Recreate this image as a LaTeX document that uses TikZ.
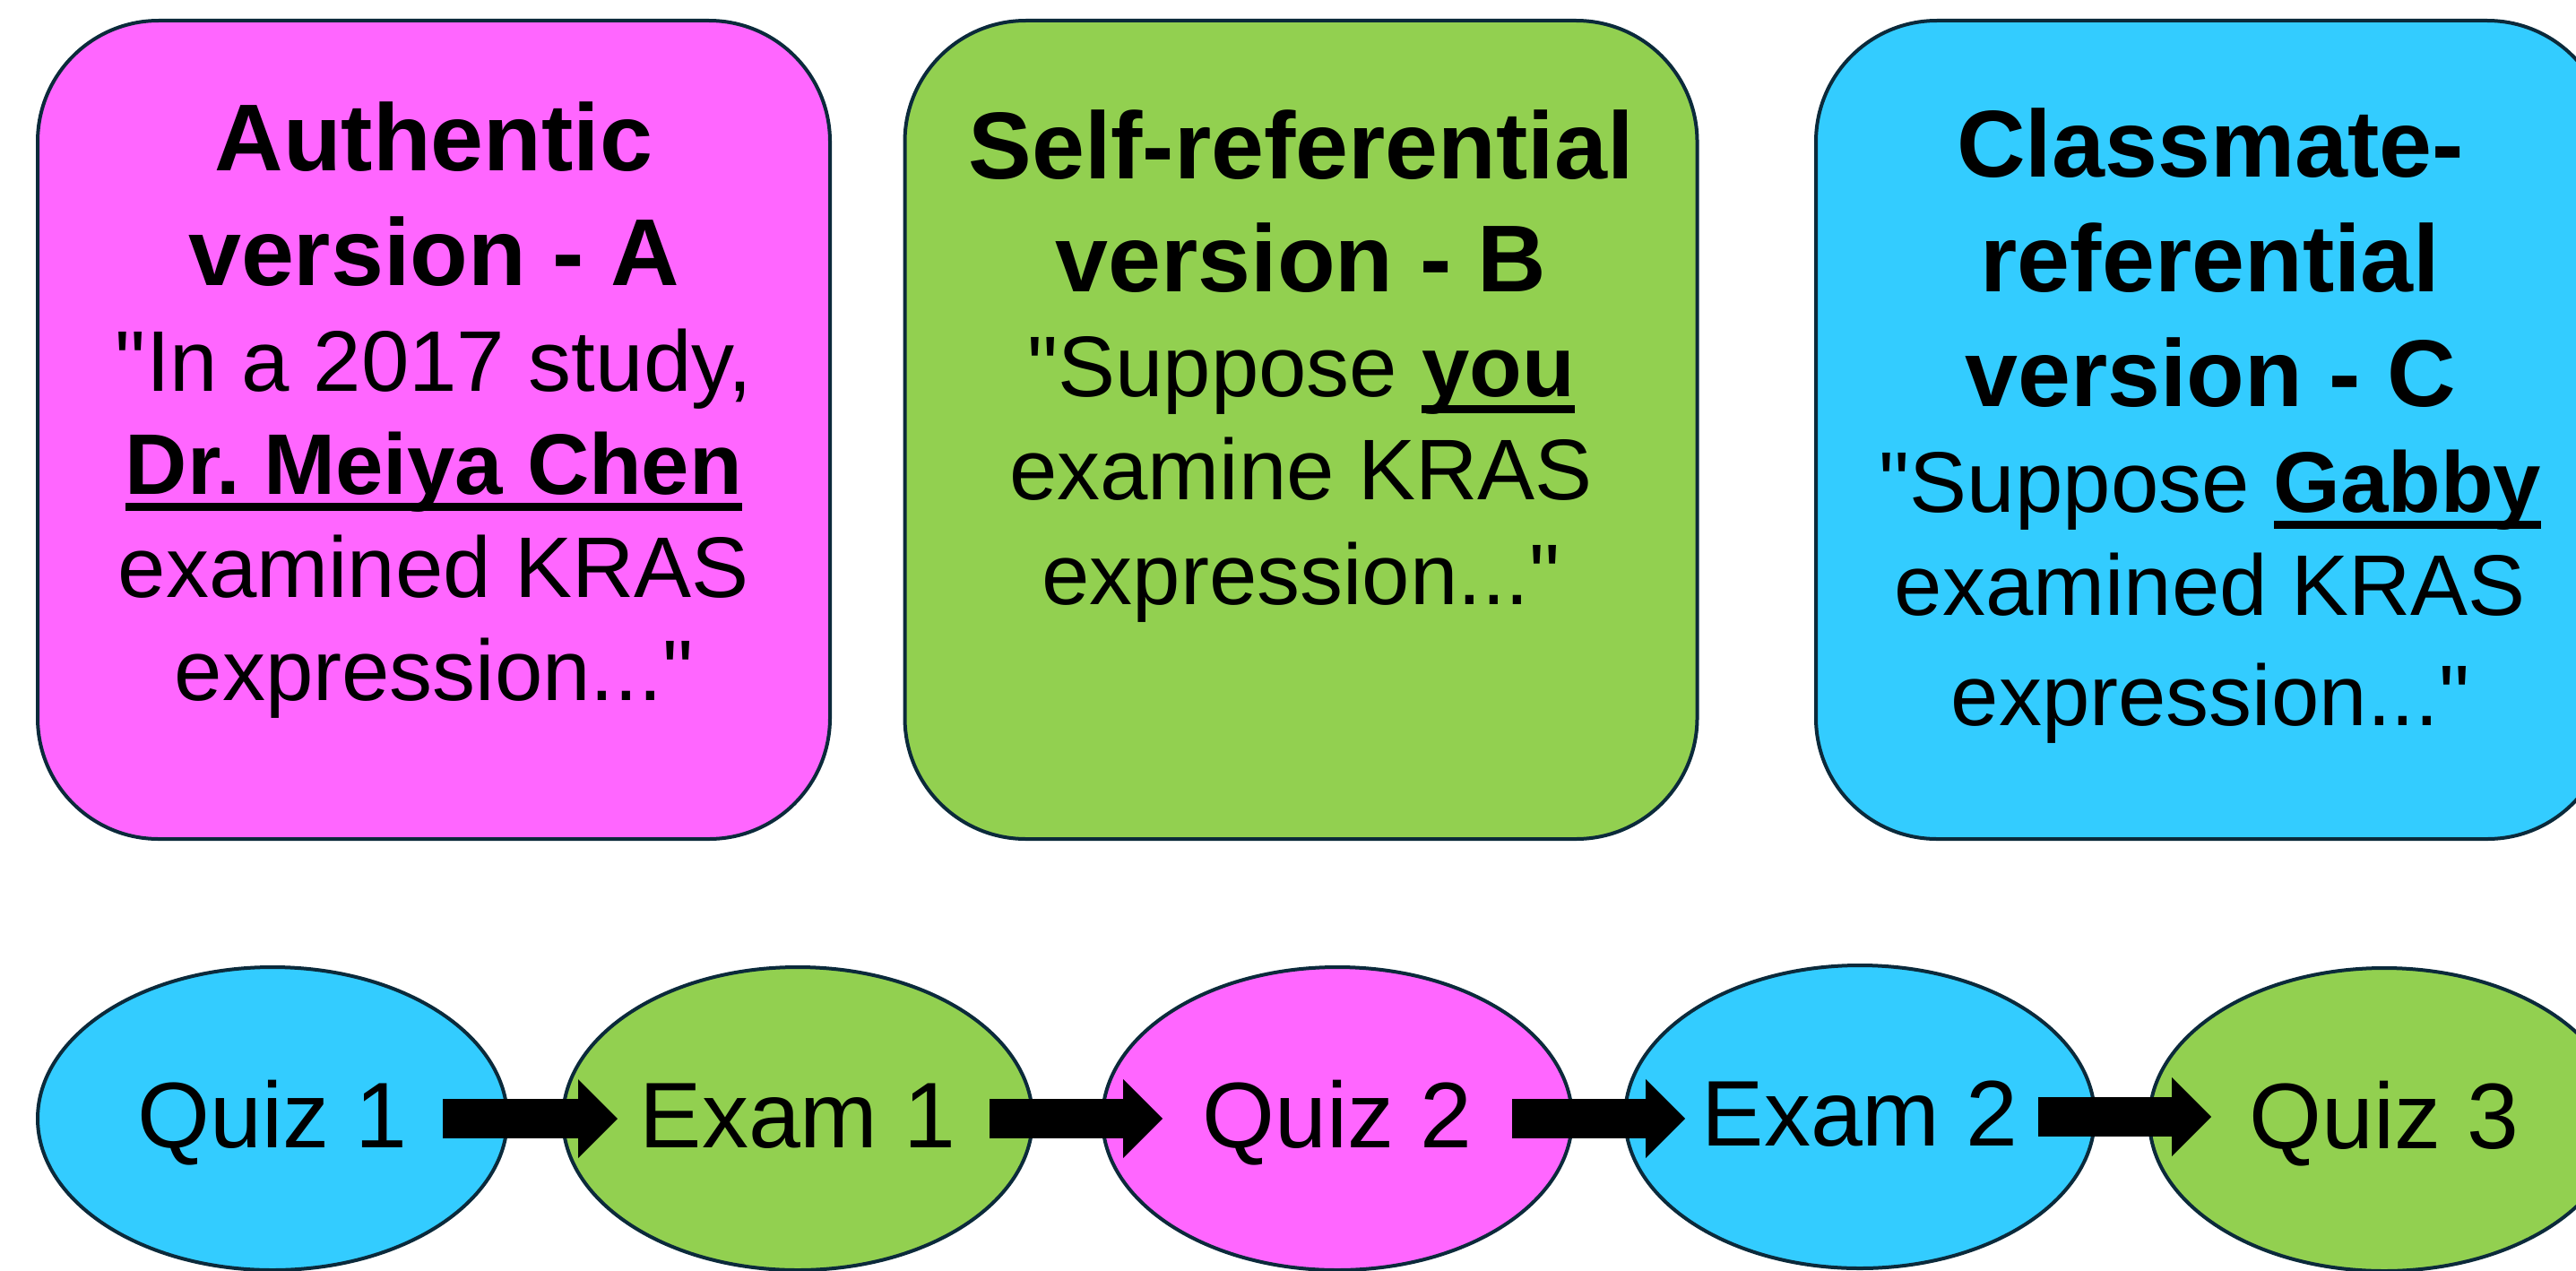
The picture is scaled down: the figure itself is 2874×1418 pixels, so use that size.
\documentclass[tikz,border=0pt]{standalone}
\usepackage{fontspec}
\setmainfont{Liberation Sans}
\usetikzlibrary{shapes.geometric,arrows.meta}
\definecolor{mag}{HTML}{FF66FF}
\definecolor{grn}{HTML}{92D050}
\definecolor{cyn}{HTML}{33CCFF}
\definecolor{edgec}{HTML}{0B2A3B}
\newcommand\myul[1]{\setbox0=\hbox{#1}\rlap{\rule[-0.2em]{\wd0}{0.1em}}\box0}
\newcommand\dq{\textquotedbl}
\frenchspacing
\begin{document}
\begin{tikzpicture}[x=1pt,y=-1pt,
  card/.style={draw=edgec, line width=4pt, rounded corners=135pt, minimum width=884pt, minimum height=913pt, inner sep=0pt},
  ttl/.style={anchor=base, inner sep=0pt, font=\fontsize{106}{127}\selectfont\bfseries},
  bdy/.style={anchor=base, inner sep=0pt, font=\fontsize{96}{116}\selectfont},
  oval/.style={ellipse, draw=edgec, line width=4pt, minimum width=524pt, minimum height=338pt, inner sep=0pt, font=\fontsize{104}{120}\selectfont, text height=68pt, text depth=4pt},
  blk/.style={line width=44pt, -{Triangle[length=44pt,width=88pt,line width=0pt]}}]
\useasboundingbox (0,0) rectangle (2874,1418);
\clip (0,0) rectangle (2874,1418);

% cards
\node[card, fill=mag] (cardA) at (484,479.5) {};
\node[card, fill=grn] (cardB) at (1451.5,479.5) {};
\node[card, fill=cyn] (cardC) at (2468,479.5) {};

% card A text
\node[ttl] (a1) at (484,190) {Authentic};
\node[ttl] (a2) at (484,318) {version - A};
\node[bdy] (a3) at (484,436) {\dq In a 2017 study,};
\node[bdy] (a4) at (484,551) {\myul{\bfseries Dr. Meiya Chen}};
\node[bdy] (a5) at (484,666) {examined KRAS};
\node[bdy] (a6) at (484,781) {expression...\dq};

% card B text
\node[ttl] (b1) at (1451.5,199) {Self-referential};
\node[ttl] (b2) at (1451.5,325) {version - B};
\node[bdy] (b3) at (1451.5,442) {\dq Suppose \myul{\bfseries you}};
\node[bdy] (b4) at (1451.5,557) {examine KRAS};
\node[bdy] (b5) at (1451.5,674) {expression...\dq};

% card C text
\node[ttl] (c1) at (2466,197) {Classmate-};
\node[ttl] (c2) at (2466,325) {referential};
\node[ttl] (c3) at (2466,453) {version - C};
\node[bdy] (c4) at (2466,571) {\dq Suppose \myul{\bfseries Gabby}};
\node[bdy] (c5) at (2466,686) {examined KRAS};
\node[bdy] (c6) at (2466,809) {expression...\dq};

% timeline
\node[oval, fill=cyn] (q1) at (304,1248) {Quiz 1};
\node[oval, fill=grn] (e1) at (890,1248) {Exam 1};
\node[oval, fill=mag] (q2) at (1492,1248) {Quiz 2};
\node[oval, fill=cyn] (e2) at (2075,1246) {Exam 2};
\node[oval, fill=grn] (q3) at (2660,1249) {Quiz 3};

\draw[blk] ([xshift=-74pt]q1.east) -- ([xshift=63pt]e1.west);
\draw[blk] ([xshift=-50pt]e1.east) -- ([xshift=69pt]q2.west);
\draw[blk] ([xshift=-69pt]q2.east) -- ([xshift=69pt]e2.west |- q2.east);
\draw[blk] ([xshift=-65pt]e2.east) -- ([xshift=71pt]q3.west |- e2.east);
\end{tikzpicture}
\end{document}
